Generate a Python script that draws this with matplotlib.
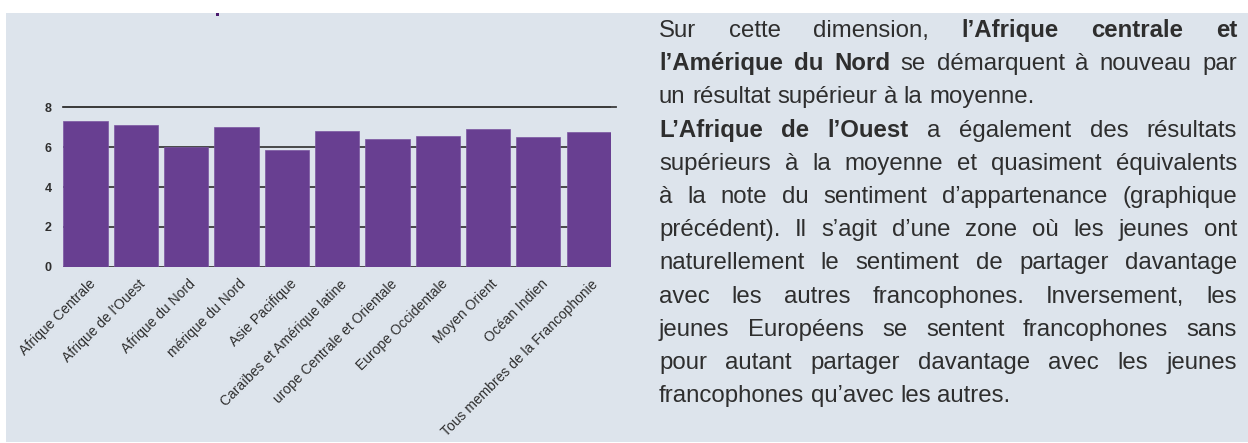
import matplotlib
matplotlib.use("Agg")
import matplotlib.pyplot as plt
import matplotlib.transforms as mtransforms
from matplotlib.patches import Rectangle

regions = ["Afrique Centrale", "Afrique de l'Ouest", "Afrique du Nord",
           "mérique du Nord", "Asie Pacifique", "Caraïbes et Amérique latine",
           "urope Centrale et Orientale", "Europe Occidentale", "Moyen Orient",
           "Océan Indien", "Tous membres de la Francophonie"]
scores = [7.3, 7.1, 6.0, 7.0, 5.85, 6.8, 6.4, 6.55, 6.9, 6.5, 6.75]
y_ticks = [0, 2, 4, 6, 8]

# each line: list of (segment, bold), and whether it is justified
text_lines = [
    ([("Sur cette dimension,", False), ("l’Afrique centrale et", True)], True),
    ([("l’Amérique du Nord", True), ("se démarquent à nouveau par", False)], True),
    ([("un résultat supérieur à la moyenne.", False)], False),
    ([("L’Afrique de l’Ouest", True), ("a également des résultats", False)], True),
    ([("supérieurs à la moyenne et quasiment équivalents", False)], True),
    ([("à la note du sentiment d’appartenance (graphique", False)], True),
    ([("précédent). Il s’agit d’une zone où les jeunes ont", False)], True),
    ([("naturellement le sentiment de partager davantage", False)], True),
    ([("avec les autres francophones. Inversement, les", False)], True),
    ([("jeunes Européens se sentent francophones sans", False)], True),
    ([("pour autant partager davantage avec les jeunes", False)], True),
    ([("francophones qu’avec les autres.", False)], False),
]

W, H = 1248, 443
BG = "#dde4ec"
PURPLE = "#683f91"
TXT = "#2e2e2e"

plt.rcParams["font.family"] = ["Liberation Sans", "DejaVu Sans"]

fig = plt.figure(figsize=(W / 100, H / 100), dpi=100)
fig.patch.set_facecolor("white")


def fx(x):
    return x / W


def fy(y):
    return 1 - y / H


# light background panel
fig.patches.append(Rectangle((fx(6), fy(442)), fx(W) - fx(6), fy(13) - fy(442),
                             transform=fig.transFigure, facecolor=BG,
                             edgecolor="none", zorder=-10))
# small leftover mark of a title above the chart
fig.patches.append(Rectangle((fx(216), fy(16)), 3 / W, 3 / H,
                             transform=fig.transFigure, facecolor="#4a1a6e",
                             edgecolor="none", zorder=-5))

# chart
ax_left, ax_right = 62.7, 611
y0_px, y8_px = 266.7, 107.3
px_per_unit = (y0_px - y8_px) / 8
ytop = 8.3
ax = fig.add_axes([fx(ax_left), fy(y0_px), (ax_right - ax_left) / W,
                   ytop * px_per_unit / H])
ax.set_facecolor("none")
ax.set_zorder(2)

x = list(range(len(regions)))
ax.bar(x, scores, width=0.878, color=PURPLE, edgecolor="#7a55a0",
       linewidth=0.5, zorder=2)

ax.set_xlim(-0.453, 10.443)
ax.set_ylim(0, ytop)
ax.set_yticks(y_ticks)
ax.set_yticklabels([str(v) for v in y_ticks], fontsize=9, color=TXT,
                   fontweight="bold")
ax.yaxis.grid(True, color="#3c3c3c", linewidth=1.3)
ax.set_axisbelow(True)
ax.axhline(8, xmin=0, xmax=(616 - ax_left) / (ax_right - ax_left),
           color="#3c3c3c", linewidth=1.3, clip_on=False, zorder=1)
for s in ax.spines.values():
    s.set_visible(False)
ax.tick_params(axis="y", length=0, pad=8)
ax.tick_params(axis="x", length=0, pad=11)

ax.set_xticks(x)
ax.set_xticklabels(regions, rotation=45, ha="right", va="center",
                   rotation_mode="anchor", fontsize=10, color=TXT)
shift = mtransforms.ScaledTranslation(7.5 / 100, 0, fig.dpi_scale_trans)
for lab in ax.get_xticklabels():
    lab.set_transform(lab.get_transform() + shift)

# justified paragraph on the right
renderer = fig.canvas.get_renderer()
fs = 24 * 0.72
left_px, right_px = 659, 1237
base0, step = 37, 33.2

probe = fig.text(0, 0, "a a", fontsize=fs)
w2 = probe.get_window_extent(renderer).width
probe.set_text("aa")
space_w = w2 - probe.get_window_extent(renderer).width
probe.remove()

for i, (segments, justify) in enumerate(text_lines):
    words = []
    for seg, bold in segments:
        for wd in seg.split(" "):
            words.append((wd, bold))
    objs = []
    total = 0
    for wd, bold in words:
        t = fig.text(0, fy(base0 + i * step), wd, fontsize=fs, color=TXT,
                     fontweight="bold" if bold else "normal", va="baseline")
        w = t.get_window_extent(renderer).width
        objs.append((t, w))
        total += w
    if justify and len(objs) > 1:
        gap = (right_px - left_px - total) / (len(objs) - 1)
    else:
        gap = space_w
    xpos = left_px
    for t, w in objs:
        t.set_x(fx(xpos))
        xpos += w + gap

fig.savefig("out.png", dpi=100)
